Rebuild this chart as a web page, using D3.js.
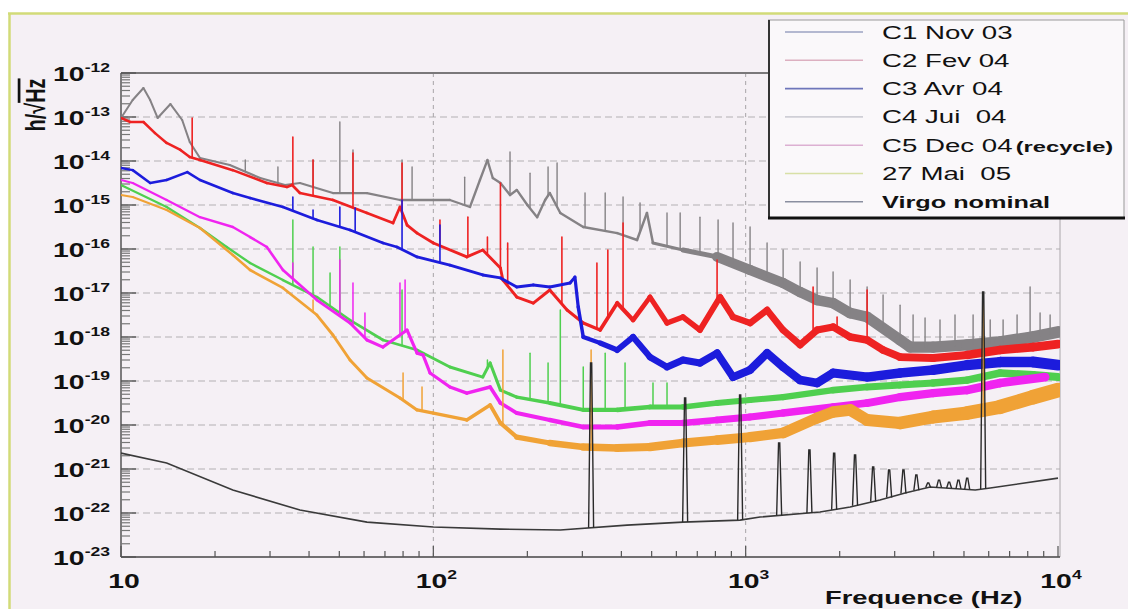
<!DOCTYPE html>
<html><head><meta charset="utf-8">
<script src="https://cdn.jsdelivr.net/npm/d3@7"></script>
<style>
html,body{margin:0;padding:0;background:#fff;}
svg{display:block;font-family:"Liberation Sans",Arial,Helvetica,sans-serif;}
</style></head><body>
<svg id="chart" width="1128" height="609"></svg>
<script>
// ---------------- DATA ----------------
const xTicks = [10, 100, 1000, 10000];
const xTickLabels = [["10",""],["10","2"],["10","3"],["10","4"]];
const yTicks = [1e-12,1e-13,1e-14,1e-15,1e-16,1e-17,1e-18,1e-19,1e-20,1e-21,1e-22,1e-23];
const yTickLabels = [["10","-12"],["10","-13"],["10","-14"],["10","-15"],["10","-16"],["10","-17"],["10","-18"],["10","-19"],["10","-20"],["10","-21"],["10","-22"],["10","-23"]];
const xTitle = "Frequence (Hz)";
const legendLabels = [["C1 Nov 03",""],["C2 Fev 04",""],["C3 Avr 04",""],["C4 Jui  04",""],["C5 Dec 04","(recycle)"],["27 Mai  05",""],["","Virgo nominal"]];

// [frequency Hz, h / sqrt(Hz)]
const c1Nov03 = [[10,9.5e-14],[10.9,2.43e-13],[11.8,4.56e-13],[12.4,2.43e-13],[13.1,9.5e-14],[14.4,1.97e-13],[15.7,8.55e-14],[16.6,2.7e-14],[17.9,1.17e-14],[22.3,8.1e-15],[27.9,4.1e-15],[33.5,2.85e-15],[37.4,3.16e-15],[47.7,1.87e-15],[61.3,1.87e-15],[78.2,1.3e-15],[100,1.3e-15],[113,1.3e-15],[131,9.0e-16],[141,3.7e-15],[149,1.05e-14],[155,4.1e-15],[164,3.16e-15],[176,1.69e-15],[185,2.2e-15],[200,1e-15],[215,5.3e-16],[228,1.3e-15],[236,1.87e-15],[255,6.6e-16],[302,3.16e-16],[388,2.3e-16],[449,1.6e-16],[483,6.6e-16],[505,1.37e-16],[630,9.5e-17],[810,6.6e-17],[1033,3.33e-17],[1318,1.69e-17],[1494,1.05e-17],[1693,6.9e-18],[1905,5.9e-18],[2160,3.5e-18],[2448,2.85e-18],[3122,8.55e-19],[3361,5.9e-19],[3983,5.9e-19],[5117,6.6e-19],[6526,7.7e-19],[8323,1e-18],[10000,1.3e-18]];
const c1Spikes = [[25,1.05e-14],[31.8,7.3e-15],[41.2,1.05e-14],[50.2,7.7e-14],[55.3,1.78e-14],[79.4,1.05e-14],[85.5,7.3e-15],[126,4.3e-15],[176,1.6e-14],[204,5.3e-15],[233,7.3e-15],[249,9e-15],[306,1.87e-15],[355,1.87e-15],[405,1.52e-15],[459,1.11e-15],[560,6.6e-16],[617,6.6e-16],[714,5.3e-16],[816,4.56e-16],[911,3.9e-16],[1033,3.16e-16],[1171,1.37e-16],[1318,9.5e-17],[1494,5.07e-17],[1693,3.7e-17],[1905,3.0e-17],[2160,1.97e-17],[2448,1.37e-17],[2754,9e-18],[3122,5.3e-18],[3436,3.16e-18],[3753,2.7e-18],[4190,2.43e-18],[4680,3.16e-18],[5348,3.16e-18],[6067,2.43e-18],[6672,2.43e-18],[7396,3.16e-18],[8141,1.37e-17],[8763,3.5e-18],[9436,3.16e-18]];

const c2Fev04 = [[10,9.5e-14],[10.7,7.7e-14],[11.8,7.7e-14],[12.85,4.3e-14],[14,2.57e-14],[15.5,1.78e-14],[16.6,1.23e-14],[17.9,1.05e-14],[22.8,6.2e-15],[29.3,3.16e-15],[34,2.57e-15],[35.3,2.85e-15],[37.4,1.87e-15],[47.7,1.3e-15],[61.3,6.6e-16],[74.3,3.9e-16],[78.2,9e-16],[82.4,3.5e-16],[88.7,2.3e-16],[100,1.37e-16],[128,6.6e-17],[144,9.5e-17],[164,3.7e-17],[167,1.97e-17],[185,8.1e-18],[209,5.9e-18],[236,1.17e-17],[268,4.1e-18],[302,2.08e-18],[342,1.44e-18],[388,5.9e-18],[436,2.43e-18],[494,8.1e-18],[560,2.08e-18],[630,2.85e-18],[714,1.44e-18],[828,8.1e-18],[911,2.85e-18],[1033,2.08e-18],[1171,4.1e-18],[1318,1.44e-18],[1494,6.6e-19],[1693,1.44e-18],[1905,1.69e-18],[2160,1e-18],[2448,8.55e-19],[2754,5.07e-19],[3122,3.5e-19],[3983,3.33e-19],[5117,3.9e-19],[6526,5.07e-19],[8323,5.9e-19],[10000,6.9e-19]];
const c2Spikes = [[16.9,9.5e-14],[35.5,3.5e-14],[41.2,1.05e-14],[55.3,1.52e-14],[79.4,9e-15],[105,4.56e-16],[129,5.3e-16],[149,1.87e-16],[164,3.16e-15],[173,1.37e-16],[258,1.87e-16],[334,4.8e-17],[362,9.5e-17],[405,3.9e-16],[810,5.6e-17],[1644,1.37e-17],[1962,2.85e-18],[2448,1.17e-17]];

const c3Avr04 = [[10,6.9e-15],[10.9,6.2e-15],[12.4,3.16e-15],[14,3.7e-15],[16.3,5.6e-15],[17.9,3.7e-15],[22.8,1.87e-15],[25.9,1.44e-15],[33,9e-16],[42.4,4.56e-16],[54.1,2.7e-16],[69,1.37e-16],[76.5,1.11e-16],[88.7,6.6e-17],[113,4.3e-17],[144,2.57e-17],[164,2.2e-17],[185,1.37e-17],[209,1.52e-17],[236,1.37e-17],[274,1.69e-17],[284,2.3e-17],[291,4.8e-18],[302,1e-18],[342,7.3e-19],[388,5.07e-19],[436,1e-18],[494,3.5e-19],[560,2.08e-19],[630,3e-19],[714,2.57e-19],[810,4.3e-19],[911,1.23e-19],[1033,1.78e-19],[1171,4.3e-19],[1318,2.08e-19],[1494,1.05e-19],[1693,9e-20],[1905,1.52e-19],[2448,1.23e-19],[3122,1.52e-19],[3983,1.78e-19],[5117,2.3e-19],[6526,2.7e-19],[8323,2.7e-19],[10000,2.3e-19]];
const c3Spikes = [[35.5,1.52e-15],[41.2,7.7e-16],[50.2,9e-16],[56.2,8.55e-16],[79.4,1.3e-15],[105,3.5e-16]];

const c4Jui04 = [[10,2.85e-15],[14,9e-16],[17.9,3e-16],[21.8,1.11e-16],[25.9,4.8e-17],[33,1.97e-17],[42.4,8.1e-18],[54.1,2.43e-18],[69,8.55e-19],[88.7,5.07e-19],[113,2.08e-19],[144,1.23e-19],[152,2.57e-19],[164,6.2e-20],[185,4.3e-20],[236,3.16e-20],[302,2.2e-20],[388,2.2e-20],[494,2.57e-20],[630,2.57e-20],[810,3.16e-20],[1033,3.7e-20],[1318,4.3e-20],[1905,6.2e-20],[2448,7.3e-20],[3122,8.1e-20],[3983,9e-20],[5117,1.05e-19],[6526,1.52e-19],[8323,1.37e-19],[10000,1.23e-19]];
const c4Spikes = [[35.5,4.56e-16],[41.2,1.11e-16],[46.7,2.85e-17],[50.2,1.11e-16],[79.4,1.17e-17],[149,3e-19],[204,4.3e-19],[233,2.57e-19],[255,4.1e-18],[302,2.08e-19],[355,4.3e-19],[411,2.57e-19],[505,9e-20],[560,9e-20]];

const c5Dec04 = [[10,3.7e-15],[10.9,3.16e-15],[14,1.3e-15],[17.9,5.3e-16],[22.8,3.16e-16],[25.9,1.87e-16],[29.3,1.11e-16],[33,3.33e-17],[42.4,6.9e-18],[54.1,2.08e-18],[61.3,8.55e-19],[69,5.9e-19],[82.4,1.44e-18],[88.7,4.3e-19],[92.7,3.9e-19],[97.6,1.52e-19],[113,7.3e-20],[128,5.3e-20],[152,7.3e-20],[164,3.16e-20],[185,1.87e-20],[236,1.3e-20],[302,9e-21],[388,9e-21],[494,1.11e-20],[630,1.11e-20],[810,1.3e-20],[1033,1.52e-20],[1318,1.87e-20],[1905,2.57e-20],[2448,3.16e-20],[3122,4.3e-20],[3983,5.3e-20],[5117,6.2e-20],[6526,9e-20],[9094,1.23e-19]];
const c5Spikes = [[35.5,4.8e-17],[50.2,5.6e-17],[55.3,1.69e-17],[60.4,3.5e-18],[78.2,1.69e-17],[81.2,1.97e-17]];

const mai05 = [[10,1.69e-15],[10.9,1.52e-15],[14,7.7e-16],[17.9,3e-16],[22.8,7.3e-17],[25.9,3.33e-17],[33,1.3e-17],[42.4,3.16e-18],[47.7,1.11e-18],[54.1,3e-19],[61.3,1.17e-19],[78.2,4.1e-20],[88.7,2.2e-20],[100,1.87e-20],[128,1.3e-20],[152,2.85e-20],[164,1.11e-20],[185,5.3e-21],[236,3.9e-21],[302,3.16e-21],[388,3e-21],[494,3.16e-21],[630,3.9e-21],[810,4.56e-21],[1033,5.3e-21],[1318,6.6e-21],[1693,1.44e-20],[1905,1.97e-20],[2160,2.2e-20],[2448,1.3e-20],[3122,1.11e-20],[3983,1.52e-20],[5117,1.87e-20],[6526,2.57e-20],[8323,4.3e-20],[10000,6.2e-20]];
const maiSpikes = [[41.2,6.9e-18],[80,1.52e-19],[92,7.3e-20],[167,5.07e-19],[320,5.07e-19],[5760,9e-18]];

const virgoNominal = [[10,2.3e-21],[14,1.37e-21],[22.8,3.33e-22],[37.4,1.17e-22],[61.3,6.2e-23],[100,4.8e-23],[164,4.3e-23],[255,4.1e-23],[417,5.3e-23],[630,6.2e-23],[960,6.9e-23],[1112,8.1e-23],[1730,1.05e-22],[2160,1.37e-22],[2692,1.97e-22],[3238,2.85e-22],[3893,3.9e-22],[5433,3.33e-22],[6067,3.7e-22],[10000,6.2e-22]];
const virgoSpikes = [[320,2.57e-19],[640,4.1e-20],[960,4.8e-20],[1280,3.9e-21],[1600,2.7e-21],[1920,2.3e-21],[2240,2.08e-21],[2560,1.11e-21],[2880,9.5e-22],[3200,9.5e-22],[3520,7.3e-22],[3840,4.8e-22],[4160,5.6e-22],[4480,5e-22],[4800,5.6e-22],[5120,6.2e-22],[5760,1.05e-17]];

// ---------------- DRAWING ----------------
const svg = d3.select("#chart");
const L = 121, R = 1058, T = 73, B = 557;
const x = d3.scaleLog().domain([10, 10000]).range([L, R]);
const y = d3.scaleLog().domain([1e-23, 1e-12]).range([B, T]);

// page background and frame
svg.append("rect").attr("width",1128).attr("height",609).attr("fill","#ffffff");
svg.append("rect").attr("x",9).attr("y",13).attr("width",1119).attr("height",596).attr("fill","#f5f0f5");
svg.append("line").attr("x1",8).attr("x2",1128).attr("y1",13.5).attr("y2",13.5).attr("stroke","#d2db78").attr("stroke-width",2.5);
svg.append("line").attr("x1",9.5).attr("x2",9.5).attr("y1",13).attr("y2",609).attr("stroke","#d2db78").attr("stroke-width",2.5);

// grid
const grid = svg.append("g");
grid.selectAll(null).data(yTicks.filter(v => v < 1e-12 && v > 1e-23)).join("line")
  .attr("x1", L).attr("x2", 1060).attr("y1", d => y(d)).attr("y2", d => y(d))
  .attr("stroke", "#b4b0b4").attr("stroke-width", 1.2).attr("stroke-dasharray", "7,4");
grid.selectAll(null).data([100, 1000]).join("line")
  .attr("x1", d => x(d)).attr("x2", d => x(d)).attr("y1", T).attr("y2", B)
  .attr("stroke", "#a8a4a8").attr("stroke-width", 1).attr("stroke-dasharray", "4,4");

// plot border / axes
svg.append("line").attr("x1",L).attr("x2",1061).attr("y1",T).attr("y2",T).attr("stroke","#7a787a").attr("stroke-width",2);
svg.append("line").attr("x1",1060).attr("x2",1060).attr("y1",T).attr("y2",B).attr("stroke","#aaa6aa").attr("stroke-width",1);
svg.append("line").attr("x1",L).attr("x2",L).attr("y1",T).attr("y2",B).attr("stroke","#555").attr("stroke-width",1.5);
svg.append("line").attr("x1",L).attr("x2",1060).attr("y1",B).attr("y2",B).attr("stroke","#444").attr("stroke-width",1.5);

// x ticks (inward)
const xAll = x.ticks();
svg.append("g").selectAll(null).data(xAll).join("line")
  .attr("x1", d => x(d)).attr("x2", d => x(d)).attr("y1", B)
  .attr("y2", d => xTicks.includes(d) ? B - 11 : B - 6)
  .attr("stroke", "#555").attr("stroke-width", 1.2);
// y ticks (inward)
const yMinor = [];
yTicks.slice(1).forEach(d => { for (let k = 2; k <= 9; k++) yMinor.push(d * k); });
svg.append("g").selectAll(null).data(yMinor).join("line")
  .attr("x1", L).attr("x2", L + 9).attr("y1", d => y(d)).attr("y2", d => y(d))
  .attr("stroke", "#777").attr("stroke-width", 1.2);
svg.append("g").selectAll(null).data(yTicks).join("line")
  .attr("x1", L).attr("x2", L + 15).attr("y1", d => y(d)).attr("y2", d => y(d))
  .attr("stroke", "#555").attr("stroke-width", 1.4);

// tick labels
function powLabel(g, lab, anchor) {
  const t = g.append("text").attr("text-anchor", anchor).attr("font-weight", "bold")
    .attr("font-size", 21).attr("fill", "#111");
  t.append("tspan").text(lab[0]);
  if (lab[1]) t.append("tspan").attr("dy", -9).attr("font-size", 13).text(lab[1]);
}
yTicks.forEach((v, i) => {
  const g = svg.append("g").attr("transform", `translate(110,${y(v) + 8}) scale(1.35,1)`);
  powLabel(g, yTickLabels[i], "end");
});
xTicks.forEach((v, i) => {
  const g = svg.append("g").attr("transform", `translate(${x(v) + 3},588) scale(1.35,1)`);
  powLabel(g, xTickLabels[i], "middle");
});

// axis titles
svg.append("g").attr("transform", "translate(825,604) scale(1.52,1)")
  .append("text").attr("font-weight","bold").attr("font-size",18).attr("fill","#111").text(xTitle);
const yt = svg.append("g").attr("transform", "translate(45,105) scale(1.35,1) rotate(-90)")
  .append("text").attr("text-anchor","middle").attr("font-weight","bold").attr("font-size",20).attr("fill","#111");
yt.append("tspan").text("h/\u221A");
yt.append("tspan").style("text-decoration","overline").text("Hz");

// series
svg.append("clipPath").attr("id","plotClip").append("rect")
  .attr("x", L).attr("y", T).attr("width", 1060 - L).attr("height", B - T);
const plot = svg.append("g").attr("clip-path","url(#plotClip)");

function valueAt(data, f) {
  for (let i = 0; i < data.length - 1; i++) {
    if (f >= data[i][0] && f <= data[i + 1][0]) {
      const t = Math.log(f / data[i][0]) / Math.log(data[i + 1][0] / data[i][0]);
      return Math.exp(Math.log(data[i][1]) + t * Math.log(data[i + 1][1] / data[i][1]));
    }
  }
  return data[data.length - 1][1];
}

function drawSeries(data, spikes, color, widthStops, spikeW) {
  const g = plot.append("g");
  const wScale = d3.scaleLog().domain(widthStops.map(d => d[0])).range(widthStops.map(d => d[1])).clamp(true);
  g.selectAll(null).data(d3.pairs(data)).join("line")
    .attr("x1", d => x(d[0][0])).attr("y1", d => y(d[0][1]))
    .attr("x2", d => x(d[1][0])).attr("y2", d => y(d[1][1]))
    .attr("stroke", color).attr("stroke-linecap", "round")
    .attr("stroke-width", d => wScale(Math.sqrt(d[0][0] * d[1][0])));
  g.selectAll(null).data(spikes).join("line")
    .attr("x1", d => x(d[0])).attr("x2", d => x(d[0]))
    .attr("y1", d => y(valueAt(data, d[0]))).attr("y2", d => y(d[1]))
    .attr("stroke", color).attr("stroke-width", spikeW).attr("stroke-linecap","round");
}

drawSeries(c1Nov03, c1Spikes, "#858285", [[10,2],[500,2.5],[700,4.5],[900,10],[10000,12]], 1.4);
drawSeries(c2Fev04, c2Spikes, "#ee2222", [[10,2.5],[300,3],[500,5],[1000,6.5],[10000,9]], 1.6);
drawSeries(c3Avr04, c3Spikes, "#1c1cdc", [[10,2.5],[280,3],[400,6],[1000,8],[10000,11]], 1.6);
drawSeries(c4Jui04, c4Spikes, "#4fcf4f", [[10,2],[150,3],[1000,6],[10000,8]], 1.5);
drawSeries(c5Dec04, c5Spikes, "#f024f0", [[10,2],[150,3.5],[1000,7],[10000,9]], 1.5);
drawSeries(mai05, maiSpikes, "#f0a236", [[10,2],[150,3.5],[300,7],[1000,10],[10000,15]], 1.5);

// Virgo nominal (thin black with violin-mode peaks)
const vg = plot.append("g");
vg.append("path").datum(virgoNominal)
  .attr("d", d3.line().x(d => x(d[0])).y(d => y(d[1])))
  .attr("fill","none").attr("stroke","#3a3a3a").attr("stroke-width",1.6);
vg.selectAll(null).data(virgoSpikes).join("path")
  .attr("d", d => {
    const xf = x(d[0]), yb = y(valueAt(virgoNominal, d[0])), yt2 = y(d[1]);
    return `M${xf - 2.5},${yb}L${xf - 0.6},${yt2}L${xf + 0.6},${yt2}L${xf + 2.5},${yb}`;
  })
  .attr("fill","none").attr("stroke","#2a2a2a").attr("stroke-width",1.4);

// legend
const legendColors = ["#9ba3c2","#dcb0c0","#6e76ba","#cfcfd6","#dcb0d2","#d8e0a6","#8a8fa0"];
const lg = svg.append("g");
lg.append("rect").attr("x",768).attr("y",20).attr("width",356).attr("height",198).attr("fill","#faf8fa");
lg.append("line").attr("x1",768).attr("x2",1124).attr("y1",20).attr("y2",20).attr("stroke","#999").attr("stroke-width",1);
lg.append("line").attr("x1",1124).attr("x2",1124).attr("y1",20).attr("y2",218).attr("stroke","#999").attr("stroke-width",1);
lg.append("line").attr("x1",769).attr("x2",769).attr("y1",20).attr("y2",219).attr("stroke","#333").attr("stroke-width",2);
lg.append("line").attr("x1",768).attr("x2",1125).attr("y1",218).attr("y2",218).attr("stroke","#111").attr("stroke-width",3);
legendLabels.forEach((lab, i) => {
  const cy = 32 + i * 28.3;
  lg.append("line").attr("x1",785).attr("x2",863).attr("y1",cy).attr("y2",cy)
    .attr("stroke", legendColors[i]).attr("stroke-width", 1.6);
  const g = lg.append("g").attr("transform", `translate(882,${cy + 6.5}) scale(1.58,1)`);
  const t = g.append("text").attr("fill","#111").attr("xml:space","preserve").style("white-space","pre");
  if (lab[0]) t.append("tspan").attr("font-size",17.5).text(lab[0]);
  if (lab[1]) t.append("tspan").attr("font-size", lab[0] ? 15 : 16).attr("font-weight","bold")
    .attr("dx", lab[0] ? 2 : 0).text(lab[1]);
});
</script>
</body></html>
